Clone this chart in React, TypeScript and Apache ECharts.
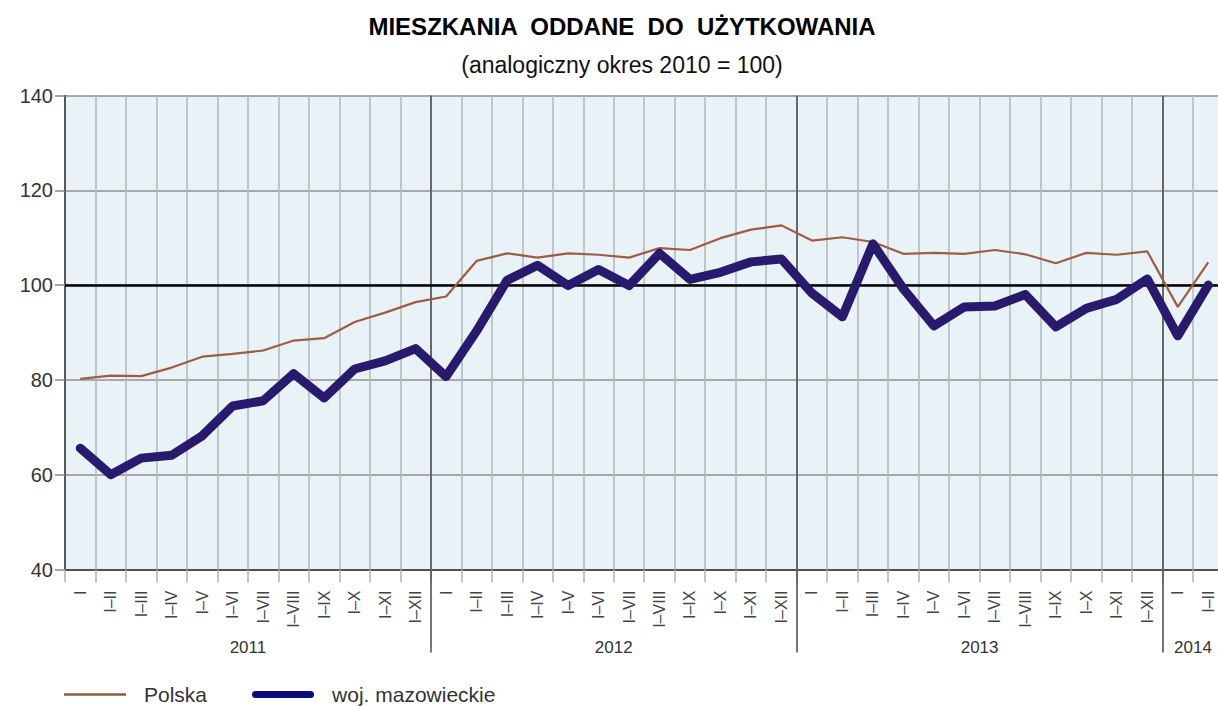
import React, { useEffect, useRef } from "react";
import * as echarts from "echarts";

const months = ["I", "I–II", "I–III", "I–IV", "I–V", "I–VI", "I–VII", "I–VIII", "I–IX", "I–X", "I–XI", "I–XII"];
const categories = [...months, ...months, ...months, "I", "I–II"];

const years = ["2011", "2012", "2013", "2014"];
const yearCenters = [6, 18, 30, 37];
const yearStarts = [12, 24, 36];

const polska = [
  80.2, 80.9, 80.8, 82.6, 84.9, 85.5, 86.2, 88.3, 88.8, 92.2, 94.2, 96.4,
  97.6, 105.1, 106.7, 105.8, 106.7, 106.4, 105.8, 107.8, 107.4, 109.9, 111.7, 112.6,
  109.4, 110.1, 109.1, 106.6, 106.8, 106.6, 107.4, 106.5, 104.6, 106.8, 106.4, 107.1,
  95.4, 104.8,
];

const mazowieckie = [
  65.6, 60.0, 63.5, 64.1, 68.2, 74.5, 75.6, 81.3, 76.2, 82.3, 84.0, 86.6,
  80.7, 90.3, 101.0, 104.2, 99.9, 103.3, 99.9, 106.7, 101.2, 102.7, 104.9, 105.5,
  98.3, 93.3, 108.7, 99.2, 91.4, 95.4, 95.6, 98.0, 91.2, 95.1, 97.0, 101.3,
  89.3, 100.0,
];

const FONT = "'Liberation Sans', Arial, Helvetica, sans-serif";
const BROWN = "#9e5b45";
const NAVY = "#281b6e";

export default function App() {
  const ref = useRef<HTMLDivElement>(null);

  useEffect(() => {
    if (!ref.current) return;
    const chart = echarts.init(ref.current, null, { renderer: "svg" });
    const isYearStart = (idx: number) => yearStarts.indexOf(idx) >= 0;
    chart.setOption({
      animation: false,
      textStyle: { fontFamily: FONT },
      title: [
        {
          text: "MIESZKANIA  ODDANE  DO  UŻYTKOWANIA",
          left: 617,
          textAlign: "center",
          top: 9,
          textStyle: { fontFamily: FONT, fontSize: 24, fontWeight: "bold", color: "#000" },
        },
        {
          text: "(analogiczny okres 2010 = 100)",
          left: 617,
          textAlign: "center",
          top: 48,
          textStyle: { fontFamily: FONT, fontSize: 23, fontWeight: "normal", color: "#111" },
        },
      ],
      legend: {
        left: 59,
        top: 679,
        itemWidth: 62,
        itemHeight: 12,
        itemGap: 45,
        textStyle: { fontFamily: FONT, fontSize: 21, color: "#333", padding: [0, 0, 0, 13] },
        data: [
          {
            name: "Polska",
            icon: "path://M0,0 L62,0 L62,2.5 L0,2.5 Z",
            itemStyle: { color: "#8e5a3a" },
          },
          {
            name: "woj. mazowieckie",
            icon: "path://M3.5,0 L58.5,0 A3.5,3.5 0 0 1 58.5,7 L3.5,7 A3.5,3.5 0 0 1 3.5,0 Z",
            itemStyle: { color: "#0b0b7a" },
          },
        ],
      },
      grid: {
        left: 65,
        top: 95.5,
        right: -5.5,
        bottom: 136.5,
        outerBoundsMode: "none",
        containLabel: false,
        show: true,
        backgroundColor: "#e9f3f7",
        borderWidth: 0,
      },
      xAxis: [
        {
          type: "category",
          data: categories,
          boundaryGap: true,
          position: "bottom",
          axisLine: { show: true, lineStyle: { color: "#333", width: 1.5 } },
          axisTick: { show: true, interval: 0, length: 13, lineStyle: { color: "#b0b4b6", width: 1.5 } },
          splitLine: { show: true, interval: 0, lineStyle: { color: "#b5bbbf", width: 1.6 } },
          axisLabel: {
            interval: 0,
            rotate: 90,
            margin: 21,
            fontSize: 16,
            lineHeight: 12,
            color: "#444",
            fontFamily: FONT,
          },
        },
        {
          type: "category",
          data: categories,
          boundaryGap: true,
          position: "bottom",
          axisLine: { show: false },
          axisTick: {
            show: true,
            interval: (idx: number) => isYearStart(idx),
            length: 83,
            lineStyle: { color: "#4a4a4a", width: 1.5 },
          },
          splitLine: {
            show: true,
            interval: (idx: number) => isYearStart(idx),
            lineStyle: { color: "#4a4a4a", width: 1.5 },
          },
          axisLabel: { show: false },
        },
        {
          type: "value",
          min: 0,
          max: 38,
          interval: 1,
          position: "bottom",
          axisLine: { show: false },
          axisTick: { show: false },
          splitLine: { show: false },
          axisLabel: {
            show: true,
            margin: 69,
            fontSize: 17,
            color: "#333",
            fontFamily: FONT,
            showMinLabel: true,
            showMaxLabel: true,
            formatter: (v: number) => {
              const i = yearCenters.indexOf(Math.round(v));
              return i >= 0 ? years[i] : "";
            },
          },
        },
      ],
      yAxis: {
        type: "value",
        min: 40,
        max: 140,
        interval: 20,
        axisLine: { show: true, lineStyle: { color: "#333", width: 1.5 } },
        axisTick: { show: true, length: 10, lineStyle: { color: "#888", width: 1.5 } },
        splitLine: { show: true, lineStyle: { color: "#8f8f8f", width: 1.5 } },
        axisLabel: { fontSize: 20, color: "#333", margin: 12, fontFamily: FONT },
      },
      series: [
        {
          name: "Polska",
          type: "line",
          data: polska,
          symbol: "none",
          z: 3,
          lineStyle: { color: BROWN, width: 2.2 },
          itemStyle: { color: BROWN },
          markLine: {
            silent: true,
            z: 2,
            symbol: "none",
            label: { show: false },
            lineStyle: { color: "#000", width: 2.5, type: "solid" },
            data: [{ yAxis: 100 }],
          },
        },
        {
          name: "woj. mazowieckie",
          type: "line",
          data: mazowieckie,
          symbol: "none",
          z: 4,
          lineStyle: { color: NAVY, width: 9, join: "round", cap: "round" },
          itemStyle: { color: NAVY },
        },
      ],
    });
    return () => chart.dispose();
  }, []);

  return (
    <div
      ref={ref}
      style={{ position: "fixed", left: 0, top: 0, width: 1218, height: 706, background: "#fff" }}
    />
  );
}
